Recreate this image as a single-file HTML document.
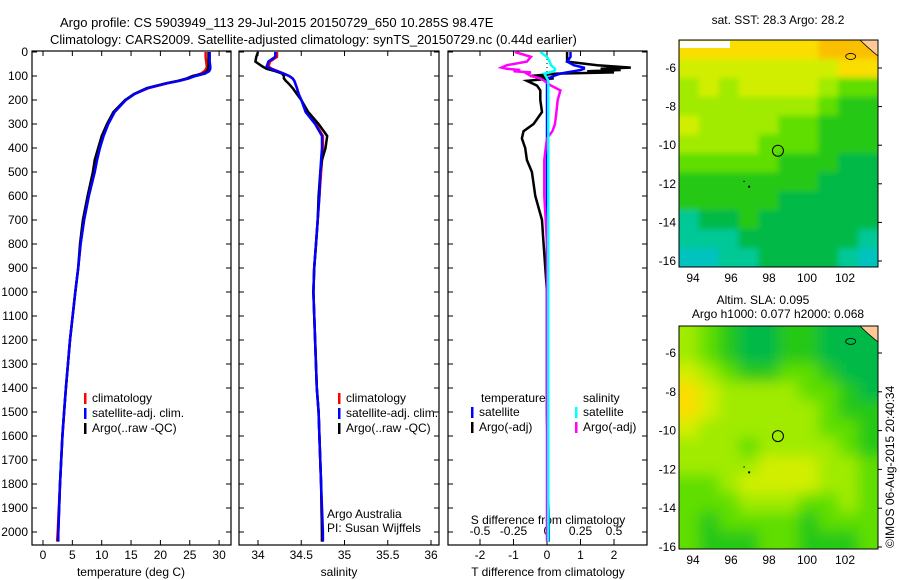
<!DOCTYPE html>
<html><head><meta charset="utf-8"><style>
body{margin:0;background:#fff}
svg{display:block;font-family:"Liberation Sans",sans-serif}
</style></head><body>
<svg id="c" width="900" height="580" viewBox="0 0 900 580">
<defs>
<filter id="blsst" x="-5%" y="-5%" width="110%" height="110%"><feGaussianBlur stdDeviation="3"/></filter>
<filter id="blsla" x="-5%" y="-5%" width="110%" height="110%"><feGaussianBlur stdDeviation="7"/></filter>
</defs>
<text x="60" y="27" font-size="13">Argo profile: CS 5903949_113 29-Jul-2015 20150729_650 10.285S 98.47E</text>
<text x="50" y="44" font-size="13">Climatology: CARS2009. Satellite-adjusted climatology: synTS_20150729.nc (0.44d earlier)</text>
<text x="778" y="24" font-size="12" text-anchor="middle">sat. SST: 28.3 Argo: 28.2</text>
<text x="763" y="304" font-size="12" text-anchor="middle">Altim. SLA: 0.095</text>
<text x="778" y="318" font-size="12" text-anchor="middle">Argo h1000: 0.077 h2000: 0.068</text>
<text transform="translate(894,548) rotate(-90)" font-size="12">©IMOS 06-Aug-2015 20:40:34</text>
</svg>
<script>
// ---- profile data ----
const depth=[0,20,40,60,70,80,90,100,110,120,130,150,175,200,250,300,350,400,450,500,600,700,800,900,1000,1200,1400,1500,1600,1800,2000,2040];
const argoT=[28.2,28.2,28.2,28.2,28.1,28.0,27.3,25.5,24.5,23,21,17.7,15.5,14,12,10.9,10,9.4,8.8,8.5,7.6,6.8,6.3,6.0,5.5,4.6,3.9,3.6,3.3,2.9,2.6,2.55];
const climT=[27.7,27.7,27.8,27.9,27.8,27.5,26.9,25.8,24.8,23.3,21.3,18,15.6,14.1,12.2,11.1,10.3,9.7,9.2,8.8,7.8,7.0,6.4,6.0,5.5,4.6,3.9,3.6,3.3,2.9,2.5,2.4];
const satT=[28.4,28.4,28.4,28.5,28.5,28.3,27.6,26,24.8,23.2,21.2,17.9,15.6,14.1,12.2,11.1,10.3,9.7,9.2,8.8,7.8,7.0,6.4,6.0,5.5,4.6,3.9,3.6,3.3,2.9,2.6,2.6];
const argoS=[34.0,33.98,33.97,34.05,34.1,34.2,34.28,34.3,34.3,34.32,34.35,34.4,34.45,34.5,34.58,34.7,34.8,34.78,34.74,34.72,34.7,34.69,34.67,34.65,34.64,34.66,34.68,34.7,34.71,34.73,34.74,34.74];
const satS=[34.2,34.2,34.12,34.1,34.15,34.22,34.3,34.36,34.4,34.42,34.43,34.45,34.47,34.5,34.55,34.66,34.74,34.74,34.73,34.72,34.71,34.69,34.67,34.65,34.64,34.66,34.68,34.7,34.71,34.73,34.75,34.75];
const climS=[34.22,34.22,34.14,34.12,34.16,34.23,34.3,34.36,34.4,34.42,34.43,34.45,34.47,34.5,34.56,34.67,34.75,34.75,34.74,34.73,34.71,34.69,34.67,34.65,34.64,34.66,34.68,34.7,34.71,34.73,34.74,34.74];
const dDepth=[0,20,40,55,65,70,75,80,85,90,100,110,120,140,160,200,250,300,330,360,400,450,500,600,700,800,900,1000,1200,1500,2000,2040];
const satTd=[0.7,0.7,0.6,0.8,1.1,1.1,1.0,0.8,0.6,0.4,0.2,0.05,0,0,0,0,0,0,0,0,0,0,0,0,0,0,0,0,0,0,0.05,0.05];
const argoTd=[0.6,0.6,0.6,1.5,2.5,1.6,2.2,1.2,2.0,0.3,-0.5,0.2,-0.6,-0.3,-0.2,-0.2,-0.15,-0.4,-0.7,-0.75,-0.65,-0.6,-0.45,-0.35,-0.15,-0.1,-0.05,0,0,0,0.05,0.05];
const argoSd=[-0.24,-0.12,-0.15,-0.3,-0.34,-0.3,-0.2,-0.25,-0.12,-0.15,-0.12,-0.05,-0.02,0.03,0.1,0.08,0.07,0.06,0.04,0,-0.01,-0.02,-0.02,-0.02,-0.01,0,0,0,0,0,0,0];
const satSd=[-0.05,0,0.02,0.03,0.05,0.06,0.06,0.05,0.02,-0.02,-0.01,0,0.01,0.01,0.01,0.01,0.01,0.01,0.01,0.01,0.01,0.01,0.01,0.01,0.01,0.01,0.01,0.01,0.01,0.01,0.01,0.01];
const depthTicks=[0,100,200,300,400,500,600,700,800,900,1000,1100,1200,1300,1400,1500,1600,1700,1800,1900,2000];
const tTicks=[0,5,10,15,20,25,30];
const sTicks=[34,34.5,35,35.5,36];
const tdTicks=[-2,-1,0,1,2];
const sdTicks=[-0.5,-0.25,0,0.25,0.5];
const sdTickLabels=["-0.5","-0.25","0","0.25","0.5"];
// ---- map data (coarse grid, north->south rows, west->east cols) ----
const sstGrid=[
[8,8,8,8,8,8,8,9,9,9],[7,7,7,7,7,7,7,7,8,8],[6,7,6,7,7,7,7,6,5,5],[6,6,6,6,6,6,6,5,4,4],
[7,6,6,6,6,5,5,4,4,4],[6,6,6,6,5,5,5,4,4,4],[5,5,5,5,5,4,4,4,3,3],[4,4,4,4,4,4,4,3,3,3],
[4,4,4,4,4,3,3,3,3,3],[2,3,3,4,3,3,3,3,3,3],[2,2,2,3,3,3,3,3,3,2],[1,1,2,2,3,3,3,3,2,1]];
const slaGrid=[
[6,5,4,3,3,4,4,3,3,3],[6,5,4,3,3,4,4,3,3,3],[7,6,5,4,4,5,5,4,3,3],[8,7,6,6,6,6,5,5,4,3],
[8,7,6,6,6,6,6,5,4,4],[7,6,6,6,6,6,6,5,5,4],[6,6,6,5,6,6,6,6,5,4],[6,6,6,6,7,7,7,6,6,5],
[5,5,6,7,7,7,7,6,6,5],[5,5,5,6,6,6,5,5,6,5],[5,4,5,5,5,5,4,5,5,5],[5,4,4,4,5,5,4,4,4,5]];
const lonTicks=[94,96,98,100,102];
const latTicks=[-6,-8,-10,-12,-14,-16];
const argoLon=98.47, argoLat=-10.285;

const svg=document.getElementById('c');
const NS='http://www.w3.org/2000/svg';
function mk(tag,attrs,parent){const e=document.createElementNS(NS,tag);for(const k in attrs)e.setAttribute(k,attrs[k]);(parent||svg).appendChild(e);return e;}
const yD=d=>52+d*0.24;
const xT=t=>43+t*5.87;
const xS=s=>258+(s-34)*86.5;
const xdT=t=>547+t*33.5;
const xdS=s=>547+s*134;
const TOP=51,BOT=545;

function frame(x0,x1,name){
  const r=mk('rect',{x:x0,y:TOP,width:x1-x0,height:BOT-TOP,fill:'none',stroke:'#000','stroke-width':1.2});
  
  
  depthTicks.forEach(d=>{
    const y=yD(d);
    mk('line',{x1:x0,x2:x0+5,y1:y,y2:y,stroke:'#000'});
    mk('line',{x1:x1-5,x2:x1,y1:y,y2:y,stroke:'#000'});
  });
}
function line(xs,ds,xf,color,name,w){
  const p=mk('polyline',{points:xs.map((v,i)=>xf(v).toFixed(1)+','+yD(ds[i]).toFixed(1)).join(' '),fill:'none',stroke:color,'stroke-width':w||2.5});
  
  
}
function txt(x,y,s,name,size,anchor){const t=mk('text',{x:x,y:y,'font-size':size||12,'text-anchor':anchor||'start'});t.textContent=s;
  
  return t;}
function xticks(ticks,xf,labels,y,name){
  ticks.forEach((t,i)=>{
    const x=xf(t);
    mk('line',{x1:x,x2:x,y1:BOT,y2:BOT-5,stroke:'#000'});
    mk('line',{x1:x,x2:x,y1:TOP,y2:TOP+5,stroke:'#000'});
    txt(x,y,labels[i],name,12,'middle');
  });
}

// panel 1
frame(32,231,'temperature-panel');
depthTicks.forEach(d=>{txt(28,yD(d)+4,String(d),'depth-tick-label',12,'end');});
xticks(tTicks,xT,tTicks.map(String),559,'temperature-tick-label');
txt(131,576,'temperature (deg C)','temperature-axis-title',12,'middle');
line(climT,depth,xT,'#f00','climatology-temperature-line');
line(argoT,depth,xT,'#000','argo-temperature-line');
line(satT,depth,xT,'#00f','satellite-temperature-line');
// panel 2
frame(239,439,'salinity-panel');
xticks(sTicks,xS,["34","34.5","35","35.5","36"],559,'salinity-tick-label');
txt(339,576,'salinity','salinity-axis-title',12,'middle');
line(climS,depth,xS,'#f00','climatology-salinity-line');
line(argoS,depth,xS,'#000','argo-salinity-line');
line(satS,depth,xS,'#00f','satellite-salinity-line');
txt(327,518,'Argo Australia','credit-line-1',12);
txt(327,532,'PI: Susan Wijffels','credit-line-2',12);
// panel 3
frame(448,647,'difference-panel');
mk('line',{x1:547,x2:547,y1:TOP,y2:BOT,stroke:'#000','stroke-dasharray':'1,3'});
xticks(tdTicks,xdT,tdTicks.map(String),559,'t-diff-tick-label');
sdTicks.forEach((s,i)=>{const x=xdS(s);mk('line',{x1:x,x2:x,y1:BOT,y2:BOT-6,stroke:'#000'});
  txt(x,535,sdTickLabels[i],'s-diff-tick-label',12,'middle');});
txt(548,524,'S difference from climatology','s-diff-axis-title',12,'middle');
txt(548,576,'T difference from climatology','t-diff-axis-title',12,'middle');
line(argoTd,dDepth,xdT,'#000','argo-temp-diff-line');
line(satTd,dDepth,xdT,'#00f','satellite-temp-diff-line');
line(argoSd,dDepth,xdS,'#f0f','argo-salinity-diff-line');
line(satSd,dDepth,xdS,'#0ff','satellite-salinity-diff-line');

// legends
function leg(x,y,color,label,name){
  const r=mk('rect',{x:x,y:y-9,width:2.5,height:11,fill:color});
  
  
  txt(x+8,y,label,name,12);
}
[['climatology','#f00'],['satellite-adj. clim.','#00f'],["Argo(..raw -QC)",'#000']].forEach((e,i)=>leg(84,402+i*15,e[1],e[0],'legend-entry'));
[['climatology','#f00'],['satellite-adj. clim.','#00f'],["Argo(..raw -QC)",'#000']].forEach((e,i)=>leg(338,402+i*15,e[1],e[0],'legend-entry'));
txt(481,402,'temperature','legend-temperature-heading',12);
txt(583,402,'salinity','legend-salinity-heading',12);
leg(471,416,'#00f','satellite','legend-entry');
leg(471,431,'#000','Argo(-adj)','legend-entry');
leg(575,416,'#0ff','satellite','legend-entry');
leg(575,431,'#f0f','Argo(-adj)','legend-entry');

// maps
const cmap=[[0,190,230],[0,195,190],[0,200,150],[0,185,70],[40,200,20],[95,222,0],[160,235,0],[210,238,0],[250,222,0],[250,192,0],[250,170,0]];
const lonX=l=>693+(l-94)*19;
function drawMap(grid,y0,y1,latY,name,fid){
  const x0=679,x1=878;
  const g=mk('g',{});
  
  
  const cp=mk('clipPath',{id:'cp'+name});mk('rect',{x:x0,y:y0,width:x1-x0,height:y1-y0},cp);
  const inner=mk('g',{'clip-path':'url(#cp'+name+')'},g);
  const fg=mk('g',{filter:'url(#'+fid+')'},inner);
  const rows=grid.length,cols=grid[0].length;
  const cw=(x1-x0)/cols,ch=(y1-y0)/rows;
  grid.forEach((row,r)=>row.forEach((v,c)=>{
    const col=cmap[v];
    // extend edge cells outward so blur doesn't fade to white
    const ex0=c===0?-15:0, ex1=c===cols-1?15:0, ey0=r===0?-15:0, ey1=r===rows-1?15:0;
    const cell=mk('rect',{x:x0+c*cw+ex0,y:y0+r*ch+ey0,width:cw+0.6-ex0+ex1,height:ch+0.6-ey0+ey1,fill:'rgb('+col.join(',')+')'},fg);
    
    
  }));
  mk('path',{d:`M${x1-18},${y0} L${x1},${y0} L${x1},${y0+16} Q${x1-10},${y0+8} ${x1-18},${y0}Z`,fill:'#ffc896',stroke:'#000','stroke-width':0.8},inner);
  mk('ellipse',{cx:lonX(102.3),cy:latY(-5.4),rx:5,ry:3,fill:'none',stroke:'#000','stroke-width':0.8},inner);
  mk('rect',{x:lonX(96.9),y:latY(-12.1),width:2,height:2,fill:'#000'},inner);
  mk('rect',{x:lonX(96.65),y:latY(-11.85),width:1.5,height:1,fill:'#000'},inner);
  const ci=mk('circle',{cx:lonX(argoLon),cy:latY(argoLat),r:5.5,fill:'none',stroke:'#000','stroke-width':1},g);
  
  
  mk('rect',{x:x0,y:y0,width:x1-x0,height:y1-y0,fill:'none',stroke:'#000','stroke-width':1},g);
  latTicks.forEach(l=>{const y=latY(l);mk('line',{x1:x1,x2:x1+4,y1:y,y2:y,stroke:'#000'},g);
    txt(x0-3,y+4,String(l),'lat-tick-label',12,'end');});
  lonTicks.forEach(l=>{txt(lonX(l),y1+15,String(l),'lon-tick-label',12,'middle');});
  return g;
}
drawMap(sstGrid,40,267,l=>68+(-6-l)*19.3,'sst-map','blsst');
const nd=mk('rect',{x:680,y:41,width:50,height:7,fill:'#fff'});


drawMap(slaGrid,326,549,l=>353+(-6-l)*19.4,'sla-map','blsla');
</script>
</body></html>
